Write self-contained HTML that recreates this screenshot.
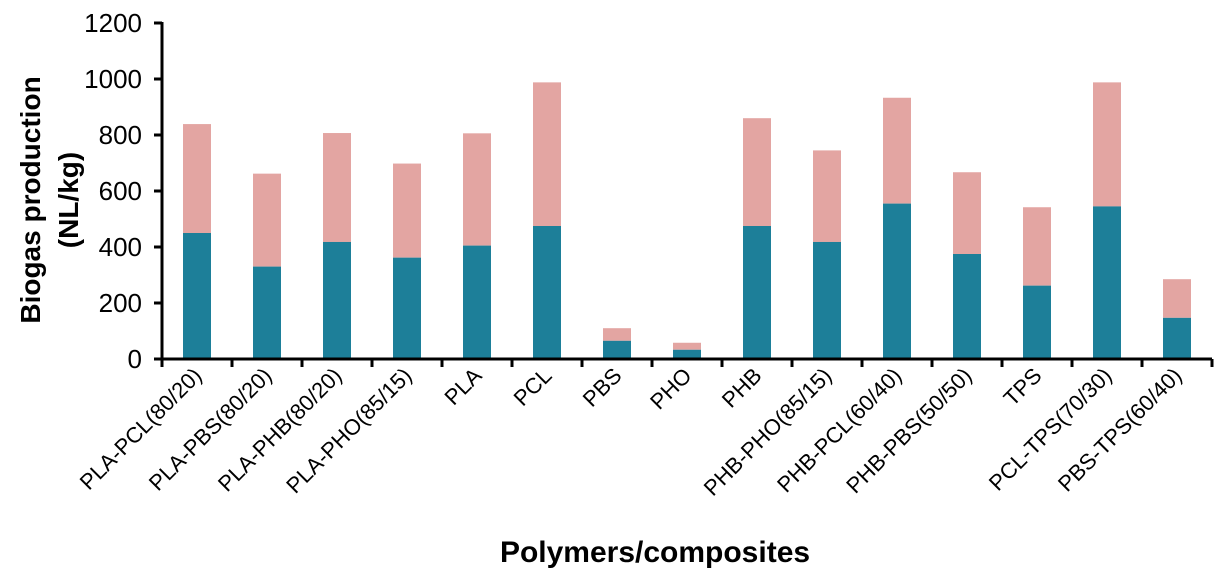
<!DOCTYPE html>
<html><head><meta charset="utf-8"><style>
body{margin:0;background:#fff;width:1224px;height:572px;overflow:hidden}
text{font-family:"Liberation Sans",sans-serif}
</style></head><body>
<svg id="chart" width="1224" height="572" xmlns="http://www.w3.org/2000/svg"></svg>
<script>
const categories=["PLA-PCL(80/20)","PLA-PBS(80/20)","PLA-PHB(80/20)","PLA-PHO(85/15)","PLA","PCL","PBS","PHO","PHB","PHB-PHO(85/15)","PHB-PCL(60/40)","PHB-PBS(50/50)","TPS","PCL-TPS(70/30)","PBS-TPS(60/40)"];
const lowerValues=[450,330,418,362,405,475,65,33,475,418,555,375,262,545,147];
const totalValues=[839,662,807,698,806,988,110,58,860,745,933,667,542,988,285];
const yTicks=[0,200,400,600,800,1000,1200];
const NS="http://www.w3.org/2000/svg";
const svg=document.getElementById('chart');
const x0=162,y0=359,step=70,bw=28;
const y=v=>y0-v*(336/1200);
const xc=i=>x0+step*(i+0.5);
function mk(t,a){const e=document.createElementNS(NS,t);for(const k in a)e.setAttribute(k,a[k]);svg.appendChild(e);return e;}
categories.forEach((c,i)=>{
  const up=mk('rect',{x:xc(i)-bw/2,y:y(totalValues[i]),width:bw,height:y(lowerValues[i])-y(totalValues[i]),fill:'#e3a5a2'});
  
  
  const lo=mk('rect',{x:xc(i)-bw/2,y:y(lowerValues[i]),width:bw,height:y0-y(lowerValues[i]),fill:'#1d7f99'});
  
  
  const t=mk('text',{x:0,y:0,'font-size':22,'text-anchor':'end',transform:`translate(${xc(i)+6},${y0+18}) rotate(-45)`});
  t.textContent=c;
  
  
});
for(let i=0;i<=categories.length;i++){
  const tk=mk('line',{x1:x0+step*i,x2:x0+step*i,y1:y0,y2:y0+8,stroke:'#000','stroke-width':3});
  
  
}
yTicks.forEach(v=>{
  const l=mk('line',{x1:x0-8,x2:x0,y1:y(v),y2:y(v),stroke:'#000','stroke-width':3});
  
  
  const t=mk('text',{x:x0-20,y:y(v)+9,'font-size':26,'text-anchor':'end'});
  t.textContent=v;
  
  
});
const ax=mk('line',{x1:x0,x2:x0+step*categories.length,y1:y0,y2:y0,stroke:'#000','stroke-width':3});


const ay=mk('line',{x1:x0,x2:x0,y1:y(1200)-1,y2:y0+1,stroke:'#000','stroke-width':3});


const yt=mk('text',{x:0,y:0,'font-size':28,'font-weight':'bold','text-anchor':'middle',transform:'translate(40,200) rotate(-90)'});
yt.innerHTML='<tspan x="0" dy="0">Biogas production</tspan><tspan x="0" dy="38">(NL/kg)</tspan>';


const xt=mk('text',{x:655,y:562,'font-size':30,'font-weight':'bold','text-anchor':'middle'});
xt.textContent='Polymers/composites';


</script>
</body></html>
